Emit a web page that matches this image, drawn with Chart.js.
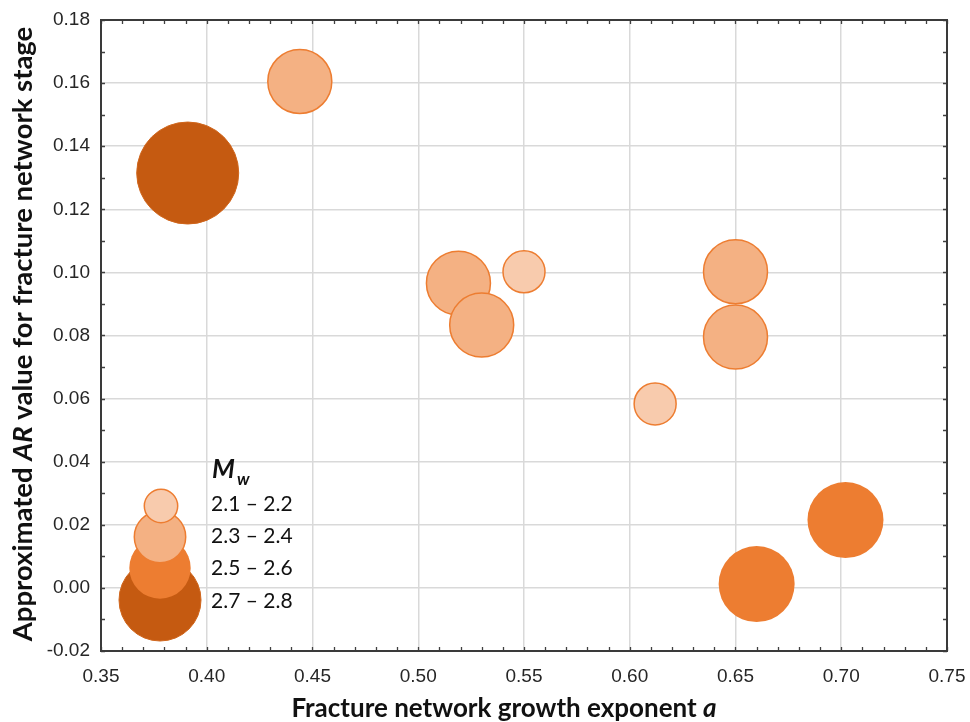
<!DOCTYPE html>
<html><head><meta charset="utf-8">
<script src="https://cdn.jsdelivr.net/npm/chart.js@4.4.1/dist/chart.umd.min.js"></script>
<style>html,body{margin:0;padding:0;background:#fff;}#wrap{width:970px;height:722px;position:relative;}</style>
</head><body><div id="wrap"><canvas id="c"></canvas></div>
<script>
// ---- data ----
const growthExponent = [0.391, 0.444, 0.519, 0.530, 0.550, 0.612, 0.650, 0.650, 0.702, 0.660];
const arValue       = [0.1315, 0.1605, 0.0966, 0.0833, 0.1002, 0.0583, 0.1002, 0.0795, 0.0215, 0.0012];
const mwClassIndex  = [3, 1, 1, 1, 0, 0, 1, 1, 2, 2];
const mwClassLabels = ['2.1 – 2.2', '2.3 – 2.4', '2.5 – 2.6', '2.7 – 2.8'];
const xTickValues = [0.35, 0.40, 0.45, 0.50, 0.55, 0.60, 0.65, 0.70, 0.75];
const yTickValues = [-0.02, 0.00, 0.02, 0.04, 0.06, 0.08, 0.10, 0.12, 0.14, 0.16, 0.18];
// title segments: [text, italic]
const xTitleParts = [['Fracture network growth exponent ', false], ['a', true]];
const yTitleParts = [['Approximated ', false], ['AR', true], [' value for fracture network stage', false]];
const legendTitle = ['M', 'w'];

// ---- styles ----
const classFill   = ['#f8cbad', '#f4b183', '#ed7d31', '#c55a11'];
const classBorder = ['#ed7d31', '#ed7d31', '#ed7d31', '#d0661c'];
const classBorderW = [1.5, 1.5, 0, 1];
const classRadius = [21, 32, 38, 51];
const legendRadius = [16.7, 25.7, 30.7, 41];
const legendCenters = [[161, 506], [160, 537], [160, 568], [160, 600]];
const legendTextY = [504, 536, 568, 601];

const datasets = mwClassLabels.map((lab, c) => {
  const pts = [];
  growthExponent.forEach((x, i) => { if (mwClassIndex[i] === c) pts.push({x: x, y: arValue[i], r: classRadius[c]}); });
  return {label: lab, data: pts, backgroundColor: classFill[c], borderColor: classBorder[c],
          borderWidth: classBorderW[c], hoverRadius: 0, clip: false, order: c === 3 ? 5 : 4 - c};
});

function drawParts(ctx, parts, size, cx, baseY) {
  const fonts = parts.map(p => (p[1] ? 'italic ' : '') + 'bold ' + size + 'px Lato');
  let total = 0;
  const widths = parts.map((p, i) => { ctx.font = fonts[i]; const w = ctx.measureText(p[0]).width; total += w; return w; });
  let x = cx - total / 2;
  parts.forEach((p, i) => { ctx.font = fonts[i]; ctx.fillText(p[0], x, baseY); x += widths[i]; });
}

const framePlugin = {
  id: 'frame',
  afterDraw(chart) {
    const ctx = chart.ctx, a = chart.chartArea, xs = chart.scales.x, ys = chart.scales.y;
    ctx.save();
    ctx.strokeStyle = '#404040';
    ctx.lineWidth = 1.3;
    ctx.beginPath();
    for (let k = 0; k <= 40; k++) {
      const px = Math.round(xs.getPixelForValue(0.35 + k * 0.01)) + 0.5;
      ctx.moveTo(px, a.bottom); ctx.lineTo(px, a.bottom - 4);
      ctx.moveTo(px, a.top); ctx.lineTo(px, a.top + 4);
    }
    for (let k = 0; k <= 20; k++) {
      const py = Math.round(ys.getPixelForValue(-0.02 + k * 0.01)) + 0.5;
      ctx.moveTo(a.left, py); ctx.lineTo(a.left + 4, py);
      ctx.moveTo(a.right, py); ctx.lineTo(a.right - 4, py);
    }
    ctx.stroke();
    ctx.lineWidth = 2;
    ctx.strokeStyle = '#3a3a3a';
    ctx.strokeRect(a.left, a.top, a.right - a.left, a.bottom - a.top);

    // legend
    for (let c = 3; c >= 0; c--) {
      const [cx, cy] = legendCenters[c];
      ctx.beginPath();
      ctx.arc(cx, cy, legendRadius[c], 0, Math.PI * 2);
      ctx.fillStyle = classFill[c];
      ctx.fill();
      if (classBorderW[c] > 0) { ctx.lineWidth = classBorderW[c]; ctx.strokeStyle = classBorder[c]; ctx.stroke(); }
    }
    ctx.fillStyle = '#111';
    ctx.textAlign = 'left';
    ctx.textBaseline = 'middle';
    ctx.font = '21px Lato';
    mwClassLabels.forEach((t, c) => ctx.fillText(t, 211, legendTextY[c]));
    ctx.textBaseline = 'alphabetic';
    ctx.font = 'italic bold 26px Lato';
    ctx.fillText(legendTitle[0], 212, 478);
    ctx.font = 'italic bold 17px Lato';
    ctx.fillText(legendTitle[1], 237, 485);

    // axis titles
    ctx.fillStyle = '#111';
    drawParts(ctx, xTitleParts, 26, 504, 717);
    ctx.save();
    ctx.translate(32, 334);
    ctx.rotate(-Math.PI / 2);
    drawParts(ctx, yTitleParts, 27.5, 0, 0);
    ctx.restore();
    ctx.restore();
  }
};

const tickFont = {family: 'Liberation Sans', size: 19};

new Chart(document.getElementById('c'), {
  type: 'bubble',
  data: {datasets},
  options: {
    responsive: true, maintainAspectRatio: false, animation: false,
    devicePixelRatio: 1,
    layout: {autoPadding: false, padding: {top: 20, right: 23, left: 0, bottom: 0}},
    plugins: {legend: {display: false}, tooltip: {enabled: false}},
    scales: {
      x: {
        type: 'linear', min: 0.35, max: 0.75,
        afterBuildTicks: s => { s.ticks = xTickValues.map(v => ({value: v})); },
        afterFit: s => { s.height = 71; s.paddingLeft = 0; s.paddingRight = 0; },
        ticks: {callback: v => Number(v).toFixed(2), font: tickFont, color: '#262626', padding: 14, maxRotation: 0, autoSkip: false},
        grid: {color: '#d9d9d9', lineWidth: 1.5, drawTicks: false},
        border: {display: false}
      },
      y: {
        type: 'linear', min: -0.02, max: 0.18,
        afterBuildTicks: s => { s.ticks = yTickValues.map(v => ({value: v})); },
        afterFit: s => { s.width = 101; s.paddingTop = 0; s.paddingBottom = 0; },
        ticks: {callback: v => Number(v).toFixed(2), font: tickFont, color: '#262626', padding: 11, autoSkip: false},
        grid: {color: '#d9d9d9', lineWidth: 1.5, drawTicks: false},
        border: {display: false}
      }
    }
  },
  plugins: [framePlugin]
});
</script></body></html>
